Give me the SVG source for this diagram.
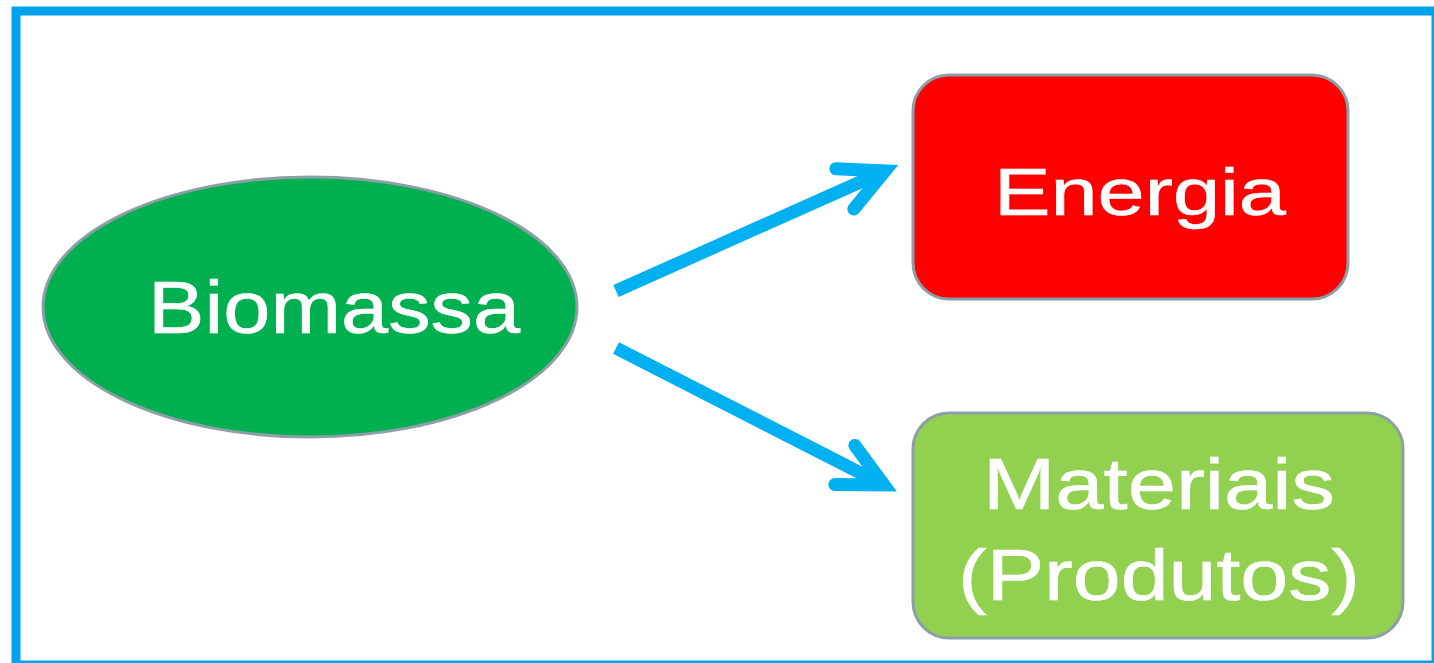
<svg xmlns="http://www.w3.org/2000/svg" width="1434" height="663" viewBox="0 0 1434 663">
  <style>
    .lbl { font-family: "Liberation Sans", Arial, sans-serif; fill: #ffffff; stroke: #ffffff; stroke-width: 0.6; }
    .shape { stroke: #8c9ea6; stroke-width: 3; }
    .conn { stroke: #00b0f0; stroke-width: 13; fill: none; stroke-linecap: butt; }
  </style>
  <defs>
    <marker id="head" markerUnits="userSpaceOnUse" viewBox="-60 -40 80 80" refX="0" refY="0" markerWidth="80" markerHeight="80" orient="auto" overflow="visible">
      <path d="M-44,-22 L0,0 L-44,22" fill="none" stroke="#00b0f0" stroke-width="13" stroke-linecap="round" stroke-linejoin="miter"/>
    </marker>
  </defs>
  <rect x="0" y="0" width="1434" height="663" fill="#ffffff"/>
  <rect id="frame" x="16" y="11" width="1420" height="654" fill="none" stroke="#00a2e8" stroke-width="9"/>

  <g id="connectors">
    <path class="conn" d="M616,291 L885,171" marker-end="url(#head)"/>
    <path class="conn" d="M616,348 L884,485" marker-end="url(#head)"/>
  </g>

  <g id="biomassa">
    <ellipse class="shape" cx="310" cy="307" rx="267" ry="130" fill="#00b050"/>
    <text class="lbl" x="148" y="333" font-size="74" textLength="372" lengthAdjust="spacingAndGlyphs">Biomassa</text>
  </g>

  <g id="energia">
    <rect class="shape" x="913" y="75" width="435" height="224" rx="36" fill="#ff0000"/>
    <text class="lbl" x="994" y="215" font-size="66" textLength="292" lengthAdjust="spacingAndGlyphs">Energia</text>
  </g>

  <g id="materiais">
    <rect class="shape" x="913" y="413" width="490" height="225" rx="36" fill="#92d050"/>
    <text class="lbl" x="983" y="509" font-size="72" textLength="352" lengthAdjust="spacingAndGlyphs">Materiais</text>
    <text class="lbl" x="958" y="600" font-size="72" textLength="402" lengthAdjust="spacingAndGlyphs">(Produtos)</text>
  </g>
</svg>
